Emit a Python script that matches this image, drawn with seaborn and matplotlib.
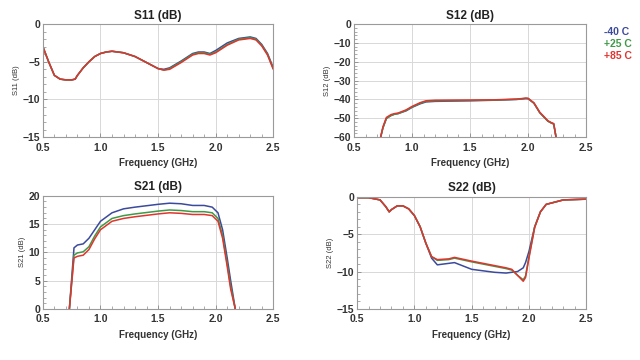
import numpy as np
import pandas as pd
import matplotlib
matplotlib.use("Agg")
import matplotlib.pyplot as plt
import seaborn as sns
from matplotlib.ticker import MultipleLocator

sns.set_theme(style="white")
plt.rcParams['font.family'] = ['Liberation Sans', 'DejaVu Sans']

temps = ['-40 C', '+25 C', '+85 C']
colors = ['#3b4a9c', '#3f9a46', '#e0352f']

# S11
s11_x = [0.5, 0.55, 0.6, 0.65, 0.7, 0.75, 0.78, 0.8, 0.85, 0.9, 0.95, 1.0, 1.05, 1.1, 1.2, 1.3, 1.4,
         1.5, 1.55, 1.6, 1.7, 1.8, 1.85, 1.9, 1.95, 2.0, 2.1, 2.2, 2.3, 2.35, 2.4, 2.45, 2.5]
s11_m40 = [-3.0, -5.0, -6.8, -7.3, -7.4, -7.4, -7.3, -6.8, -5.8, -5.0, -4.3, -3.9, -3.7, -3.6, -3.8, -4.3, -5.1,
           -5.9, -6.0, -5.8, -4.9, -3.9, -3.7, -3.7, -3.9, -3.5, -2.5, -1.9, -1.7, -1.9, -2.7, -3.9, -5.8]
s11_p25 = [-3.0, -5.0, -6.8, -7.3, -7.4, -7.4, -7.3, -6.8, -5.8, -5.0, -4.3, -3.9, -3.7, -3.6, -3.8, -4.3, -5.1,
           -5.9, -6.1, -5.9, -5.0, -4.0, -3.8, -3.8, -4.0, -3.7, -2.7, -2.0, -1.8, -2.0, -2.8, -4.0, -5.9]
s11_p85 = [-3.0, -5.0, -6.8, -7.3, -7.4, -7.4, -7.3, -6.8, -5.8, -5.0, -4.3, -3.9, -3.7, -3.6, -3.8, -4.3, -5.1,
           -5.9, -6.1, -6.0, -5.1, -4.1, -3.9, -3.9, -4.1, -3.8, -2.8, -2.1, -1.9, -2.1, -2.9, -4.1, -6.0]

# S12
s12_x = [0.73, 0.75, 0.78, 0.82, 0.85, 0.88, 0.95, 1.0, 1.07, 1.12, 1.2, 1.5, 1.7, 1.9, 1.98, 2.0,
         2.05, 2.1, 2.17, 2.2, 2.22, 2.24]
s12_m40 = [-60, -55, -50, -48.5, -47.8, -47.5, -46, -44.2, -42.3, -41.3, -41.0, -40.7, -40.4, -40.0, -39.5, -39.6,
           -42, -47, -51.5, -52.5, -53, -60]
s12_p25 = [-60, -55, -50, -48.5, -47.8, -47.5, -45.8, -44, -42, -41, -40.7, -40.5, -40.3, -39.9, -39.4, -39.5,
           -42, -47, -51.5, -52.5, -53, -60]
s12_p85 = [-60, -54.5, -49.5, -48, -47.5, -47.2, -45.5, -43.7, -41.7, -40.7, -40.4, -40.3, -40.2, -39.8, -39.3, -39.4,
           -41.8, -46.8, -51.3, -52.3, -52.8, -60]

# S21
s21_x = [0.73, 0.77, 0.8, 0.85, 0.9, 0.95, 1.0, 1.1, 1.2, 1.3, 1.5, 1.6, 1.7, 1.8, 1.9, 1.97, 2.02,
         2.06, 2.1, 2.13, 2.17]
s21_m40 = [0, 10.8, 11.3, 11.5, 12.5, 14.0, 15.5, 17.0, 17.7, 18.0, 18.5, 18.7, 18.6, 18.3, 18.3, 18.0, 17.0,
           14.0, 9.0, 5.0, 0]
s21_p25 = [0, 9.5, 9.9, 10.1, 11.0, 12.9, 14.5, 16.0, 16.5, 16.8, 17.3, 17.5, 17.4, 17.2, 17.2, 17.0, 16.0,
           13.0, 8.0, 4.0, 0]
s21_p85 = [0, 9.0, 9.3, 9.5, 10.5, 12.4, 14.0, 15.5, 16.0, 16.3, 16.8, 17.0, 16.9, 16.7, 16.7, 16.5, 15.5,
           12.5, 7.5, 3.5, 0]

# S22
s22_x = [0.5, 0.6, 0.7, 0.75, 0.78, 0.8, 0.85, 0.9, 0.95, 1.0, 1.05, 1.1, 1.15, 1.2, 1.3, 1.35, 1.5,
         1.7, 1.8, 1.85, 1.9, 1.95, 1.97, 2.0, 2.05, 2.1, 2.15, 2.3, 2.5]
s22_m40 = [-0.1, -0.1, -0.4, -1.3, -2.0, -1.7, -1.2, -1.2, -1.6, -2.5, -4.0, -6.2, -8.2, -9.1, -8.9, -8.8, -9.7,
           -10.1, -10.2, -10.1, -10.0, -9.5, -8.8, -7.3, -4.0, -2.0, -1.0, -0.4, -0.3]
s22_p25 = [-0.1, -0.1, -0.4, -1.3, -2.0, -1.7, -1.2, -1.2, -1.6, -2.5, -4.0, -6.2, -8.0, -8.5, -8.4, -8.2, -8.7,
           -9.3, -9.6, -9.8, -10.5, -11.1, -10.6, -8.0, -4.0, -2.0, -1.0, -0.4, -0.3]
s22_p85 = [-0.1, -0.1, -0.4, -1.3, -2.0, -1.7, -1.2, -1.2, -1.6, -2.5, -4.0, -6.2, -8.0, -8.4, -8.3, -8.1, -8.6,
           -9.2, -9.5, -9.7, -10.5, -11.3, -10.8, -8.2, -4.1, -2.0, -1.0, -0.4, -0.3]

charts = [
    ('S11 (dB)', 'S11 (dB)', s11_x, [s11_m40, s11_p25, s11_p85], (-15, 0), 5, 1, [0.067, 0.619, 0.360, 0.314]),
    ('S12 (dB)', 'S12 (dB)', s12_x, [s12_m40, s12_p25, s12_p85], (-60, 0), 10, 2, [0.553, 0.619, 0.363, 0.314]),
    ('S21 (dB)', 'S21 (dB)', s21_x, [s21_m40, s21_p25, s21_p85], (0, 20), 5, 1, [0.067, 0.142, 0.360, 0.314]),
    ('S22 (dB)', 'S22 (dB)', s22_x, [s22_m40, s22_p25, s22_p85], (-15, 0), 5, 1, [0.558, 0.142, 0.358, 0.311]),
]

fig = plt.figure(figsize=(6.4, 3.6), dpi=100)
fig.patch.set_facecolor('white')

for title, ylab, xs, series, ylim, ymaj, ymin, rect in charts:
    ax = fig.add_axes(rect)
    rows = []
    for t, ys in zip(temps, series):
        for x, y in zip(xs, ys):
            rows.append({'freq': x, 'val': y, 'temp': t})
    df = pd.DataFrame(rows)
    sns.lineplot(data=df, x='freq', y='val', hue='temp', palette=colors, hue_order=temps,
                 ax=ax, linewidth=1.1, legend=False, sort=False)
    ax.set_xlim(0.5, 2.5)
    ax.set_ylim(*ylim)
    ax.xaxis.set_major_locator(MultipleLocator(0.5))
    ax.xaxis.set_minor_locator(MultipleLocator(0.1))
    ax.yaxis.set_major_locator(MultipleLocator(ymaj))
    ax.yaxis.set_minor_locator(MultipleLocator(ymin))
    ax.set_xticks([0.5, 1.0, 1.5, 2.0, 2.5])
    ax.set_xticklabels(['0.5', '1.0', '1.5', '2.0', '2.5'])
    ax.grid(True, which='major', color='#d8d8d8', linewidth=0.7)
    ax.tick_params(which='both', direction='in', bottom=True, left=True,
                   colors='#888888', labelcolor='#333333', labelsize=7.5)
    ax.tick_params(axis='x', which='major', pad=4)
    ax.tick_params(axis='y', which='major', pad=2)
    ax.tick_params(which='major', length=3, width=0.6)
    ax.tick_params(which='minor', length=2, width=0.5)
    for lbl in ax.get_xticklabels() + ax.get_yticklabels():
        lbl.set_fontweight('bold')
    for s in ax.spines.values():
        s.set_color('#9a9a9a')
        s.set_linewidth(0.8)
    ax.set_title(title, fontsize=8.5, fontweight='bold', color='#222222', pad=4)
    ax.set_xlabel('Frequency (GHz)', fontsize=7, fontweight='bold', color='#333333', labelpad=4)
    ax.set_ylabel(ylab, fontsize=5.5, color='#333333', labelpad=2)

for i, (t, c) in enumerate(zip(temps, colors)):
    fig.text(0.944, 0.912 - i * 0.034, t, color=c, fontsize=7.5, fontweight='bold', ha='left', va='center')

fig.savefig('out.png', dpi=100, facecolor='white')
